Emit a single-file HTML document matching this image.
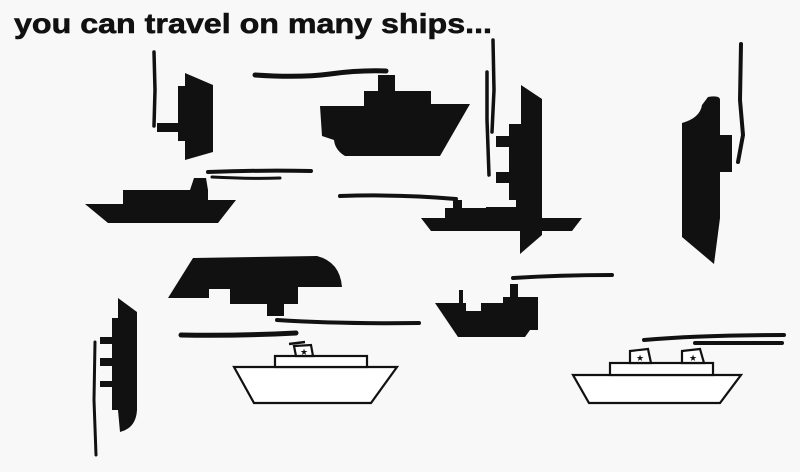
<!DOCTYPE html>
<html><head><meta charset="utf-8"><style>html,body{margin:0;padding:0;background:#f8f8f8}svg{display:block}</style></head><body>
<svg width="800" height="472" viewBox="0 0 800 472" xmlns="http://www.w3.org/2000/svg">
<rect width="800" height="472" fill="#f8f8f8"/>
<text x="14" y="33" font-family="Liberation Sans, sans-serif" font-weight="bold" font-size="28" textLength="478" lengthAdjust="spacingAndGlyphs" fill="#111" stroke="#111" stroke-width="0.6">you can travel on many ships...</text>
<g fill="#111" stroke="none">
<path d="M185,73 L213,85 L213,152 L185,160 L185,141 L178,141 L178,86 L185,86 Z"/>
<rect x="157" y="123" width="22" height="9"/>
<path d="M378,75 H395 V91 H431 V104 H470 L440,156 H345 Q335,150 334,140 L322,136 L320,106 H364 V91 H378 Z"/>
<path d="M85,204 H123 V190 H190 L194,178 H206 L208,190 V200 H236 L218,223 H108 Z"/>
<path d="M421,218 H445 V208 H453 V200 H462 V208 H486 V207 H520 V218 H582 L572,231 H431 Z"/>
<path d="M521,85 L542,99 L542,235 L520,254 L520,215 L516,215 L516,200 L509,200 L509,183 L496,183 L496,172 L509,172 L509,147 L496,147 L496,136 L509,136 L509,124 L521,124 Z"/>
<path d="M708,97 Q720,95 720,100 L720,135 L732,135 L732,172 L720,172 L720,218 L714,264 L682,237 L682,123 Q700,118 702,105 Z"/>
<path d="M193,258 L317,256 Q340,262 342,287 L298,287 L298,304 L284,304 L284,316 L267,316 L267,304 L230,304 L230,289 L209,289 L209,298 L168,298 Z"/>
<path d="M118,298 L137,312 L137,410 Q136,428 120,432 L118,410 L112,410 L112,387 L100,387 L100,381 L112,381 L112,366 L100,366 L100,358 L112,358 L112,344 L100,344 L100,337 L112,337 L112,318 L118,318 Z"/>
<path d="M435,303 H459 V290 H463 V303 H466 V311 H481 V303 H503 V297 H510 V284 H518 V297 H538 V330 L530,330 L525,337 H458 Z"/>
</g>
<g fill="none" stroke="#111" stroke-linecap="round">
<path d="M154,52 L155,90 L154,126" stroke-width="3.5"/>
<path d="M255,75 Q300,78 330,74 Q360,70 386,71" stroke-width="5"/>
<path d="M208,172 Q260,170 311,171" stroke-width="4"/>
<path d="M212,177 Q250,179 280,178" stroke-width="3"/>
<path d="M340,196 Q400,194 456,199" stroke-width="4"/>
<path d="M493,40 L494,90 L492,132" stroke-width="3.5"/>
<path d="M487,72 L487,120 L489,175" stroke-width="3.5"/>
<path d="M741,44 L740,100 L743,135 L738,162" stroke-width="4"/>
<path d="M95,342 L94,400 L96,455" stroke-width="3"/>
<path d="M513,278 Q560,275 612,275" stroke-width="4"/>
<path d="M181,335 Q240,336 296,333" stroke-width="5"/>
<path d="M277,320 Q340,324 419,323" stroke-width="4"/>
<path d="M644,340 Q700,335 784,335" stroke-width="4"/>
<path d="M695,343 Q740,343 782,343" stroke-width="4"/>
</g>
<g fill="#fff" stroke="#111" stroke-width="2.2">
<path d="M234,367 H397 L371,403 H254 Z"/>
<rect x="275" y="356" width="92" height="11"/>
<path d="M296,356 L294,346 L311,345 L313,356 Z"/>
<path d="M573,375 H741 L720,403 H589 Z"/>
<rect x="610" y="363" width="103" height="12"/>
<path d="M630,363 L630,351 L648,349 L651,363 Z"/>
<path d="M682,363 L682,351 L700,349 L704,363 Z"/>
</g>
<g fill="#111" font-family="DejaVu Sans, sans-serif" font-size="9" text-anchor="middle">
<text x="304" y="355">★</text><text x="640" y="361">★</text><text x="693" y="361">★</text>
</g>
<path d="M289,344 L305,342" stroke="#111" stroke-width="2.5"/>
</svg>
</body></html>
